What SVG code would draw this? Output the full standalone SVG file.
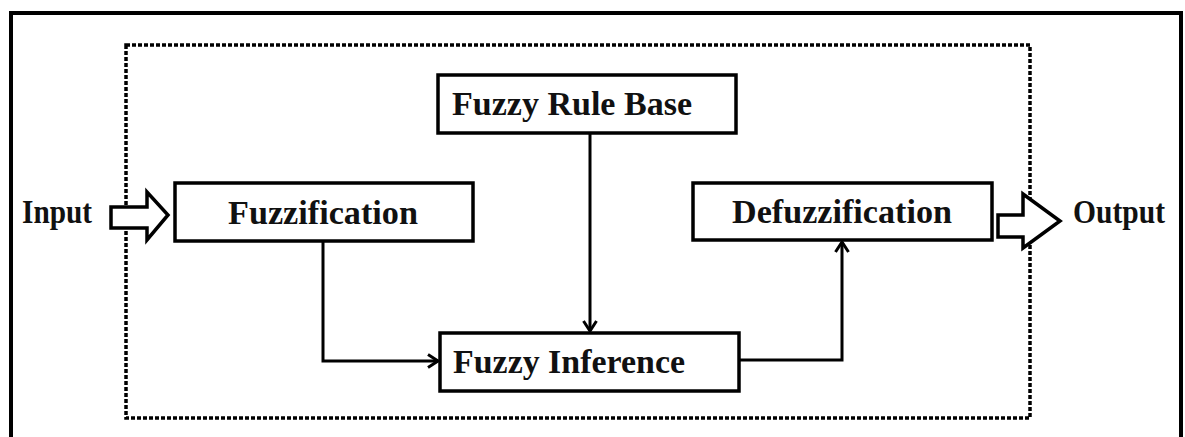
<svg xmlns="http://www.w3.org/2000/svg" width="1185" height="437" viewBox="0 0 1185 437">
  <style>
    .box { fill: #fff; stroke: #000; stroke-width: 3.5; }
    .lbl { font-family: "Liberation Serif", "Times New Roman", serif; font-weight: bold; font-size: 34px; fill: #111; }
    .wire { fill: none; stroke: #000; stroke-width: 3; }
    .block { fill: #fff; stroke: #000; stroke-width: 3.5; stroke-linejoin: miter; }
  </style>
  <defs>
    <marker id="head" markerWidth="16" markerHeight="16" refX="12" refY="8" orient="auto" markerUnits="userSpaceOnUse">
      <path d="M2,1.5 L12,8 L2,14.5" fill="none" stroke="#000" stroke-width="3"/>
    </marker>
  </defs>

  <rect width="1185" height="437" fill="#fff"/>

  <!-- outer frame (open at the bottom edge) -->
  <rect x="11" y="13" width="1170" height="440" fill="none" stroke="#000" stroke-width="4"/>

  <!-- dotted system boundary -->
  <rect x="126" y="45" width="904" height="373" fill="none" stroke="#000" stroke-width="3.5" stroke-dasharray="4 2"/>

  <g id="connectors">
    <polyline class="wire" points="323,241 323,361 438,361" marker-end="url(#head)"/>
    <polyline class="wire" points="590,133 590,331" marker-end="url(#head)"/>
    <polyline class="wire" points="739,360 842,360 842,242" marker-end="url(#head)"/>
  </g>

  <g id="input">
    <text class="lbl" x="22" y="223" textLength="70" lengthAdjust="spacingAndGlyphs">Input</text>
    <path class="block" d="M111,207 L147,207 L147,192 L168,215 L147,240 L147,228 L111,228 Z"/>
  </g>

  <g id="fuzzification">
    <rect class="box" x="175" y="183" width="298" height="58"/>
    <text class="lbl" x="228" y="224" textLength="190" lengthAdjust="spacingAndGlyphs">Fuzzification</text>
  </g>

  <g id="rule-base">
    <rect class="box" x="438" y="75" width="298" height="58"/>
    <text class="lbl" x="452" y="115" textLength="240" lengthAdjust="spacingAndGlyphs">Fuzzy Rule Base</text>
  </g>

  <g id="inference">
    <rect class="box" x="440" y="333" width="299" height="58"/>
    <text class="lbl" x="453" y="373" textLength="232" lengthAdjust="spacingAndGlyphs">Fuzzy Inference</text>
  </g>

  <g id="defuzzification">
    <rect class="box" x="693" y="183" width="299" height="57"/>
    <text class="lbl" x="732" y="223" textLength="220" lengthAdjust="spacingAndGlyphs">Defuzzification</text>
  </g>

  <g id="output">
    <path class="block" d="M998,215 L1023,215 L1023,194 L1060,221 L1023,248 L1023,237 L998,237 Z"/>
    <text class="lbl" x="1073" y="223" textLength="92" lengthAdjust="spacingAndGlyphs">Output</text>
  </g>
</svg>
